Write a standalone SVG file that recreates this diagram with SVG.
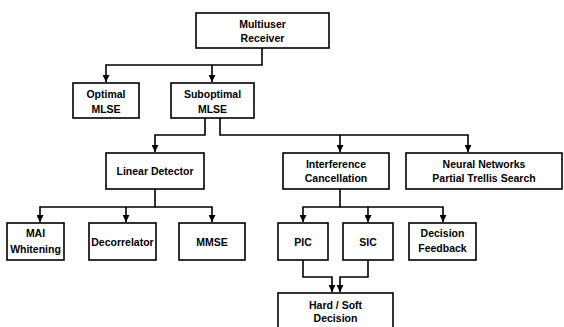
<svg xmlns="http://www.w3.org/2000/svg" width="564" height="327" viewBox="0 0 564 327">
<style>
.box{fill:#fff;stroke:#000;stroke-width:1.6}
.t{font-family:"Liberation Sans",Arial,sans-serif;font-size:10.5px;font-weight:bold;text-anchor:middle;fill:#000}
.c{fill:none;stroke:#000;stroke-width:1.6}
</style>
<defs>
<marker id="ah" markerUnits="userSpaceOnUse" markerWidth="8" markerHeight="7" refX="7" refY="3.5" orient="auto">
<path d="M0,0 L7,3.5 L0,7 z" fill="#000"/>
</marker>
</defs>
<rect width="564" height="327" fill="#fff"/>
<g id="connectors">
<path class="c" d="M262,48 V65 H106 V82" marker-end="url(#ah)"/>
<path class="c" d="M212,65 V82" marker-end="url(#ah)"/>
<path class="c" d="M205,118 V135 H155 V152" marker-end="url(#ah)"/>
<path class="c" d="M220,118 V135 H468 V152" marker-end="url(#ah)"/>
<path class="c" d="M340,135 V152" marker-end="url(#ah)"/>
<path class="c" d="M155,189 V207 H40 V222" marker-end="url(#ah)"/>
<path class="c" d="M126,207 V222" marker-end="url(#ah)"/>
<path class="c" d="M155,207 H212 V222" marker-end="url(#ah)"/>
<path class="c" d="M340,189 V207 H303 V222" marker-end="url(#ah)"/>
<path class="c" d="M368,207 V222" marker-end="url(#ah)"/>
<path class="c" d="M340,207 H443 V222" marker-end="url(#ah)"/>
<path class="c" d="M303,260 V277 H332 V292" marker-end="url(#ah)"/>
<path class="c" d="M368,260 V277 H340 V292" marker-end="url(#ah)"/>
</g>
<g id="receiver"><rect class="box" x="196" y="13" width="133" height="35"/><text class="t" x="262.5" y="28">Multiuser</text><text class="t" x="262.5" y="42">Receiver</text></g>
<g id="optimal"><rect class="box" x="73" y="83" width="66" height="35"/><text class="t" x="106" y="98">Optimal</text><text class="t" x="106" y="113">MLSE</text></g>
<g id="suboptimal"><rect class="box" x="171" y="83" width="83" height="35"/><text class="t" x="212.5" y="98">Suboptimal</text><text class="t" x="212.5" y="113">MLSE</text></g>
<g id="linear"><rect class="box" x="106" y="153" width="98" height="36"/><text class="t" x="155" y="175">Linear Detector</text></g>
<g id="interference"><rect class="box" x="283" y="153" width="106" height="36"/><text class="t" x="336" y="168">Interference</text><text class="t" x="336" y="182">Cancellation</text></g>
<g id="neural"><rect class="box" x="406" y="153" width="156" height="36"/><text class="t" x="484" y="168">Neural Networks</text><text class="t" x="484" y="182">Partial Trellis Search</text></g>
<g id="mai"><rect class="box" x="7" y="223" width="57" height="37"/><text class="t" x="35.5" y="237">MAI</text><text class="t" x="35.5" y="253">Whitening</text></g>
<g id="decorrelator"><rect class="box" x="89" y="223" width="67" height="37"/><text class="t" x="122.5" y="246">Decorrelator</text></g>
<g id="mmse"><rect class="box" x="179" y="223" width="66" height="37"/><text class="t" x="212" y="246">MMSE</text></g>
<g id="pic"><rect class="box" x="278" y="223" width="50" height="37"/><text class="t" x="303" y="246">PIC</text></g>
<g id="sic"><rect class="box" x="343" y="223" width="50" height="37"/><text class="t" x="368" y="246">SIC</text></g>
<g id="feedback"><rect class="box" x="409" y="223" width="67" height="37"/><text class="t" x="442.5" y="237">Decision</text><text class="t" x="442.5" y="252">Feedback</text></g>
<g id="harddecision"><rect class="box" x="278" y="293" width="115" height="45"/><text class="t" x="335.5" y="309">Hard / Soft</text><text class="t" x="335.5" y="322">Decision</text></g>
</svg>
